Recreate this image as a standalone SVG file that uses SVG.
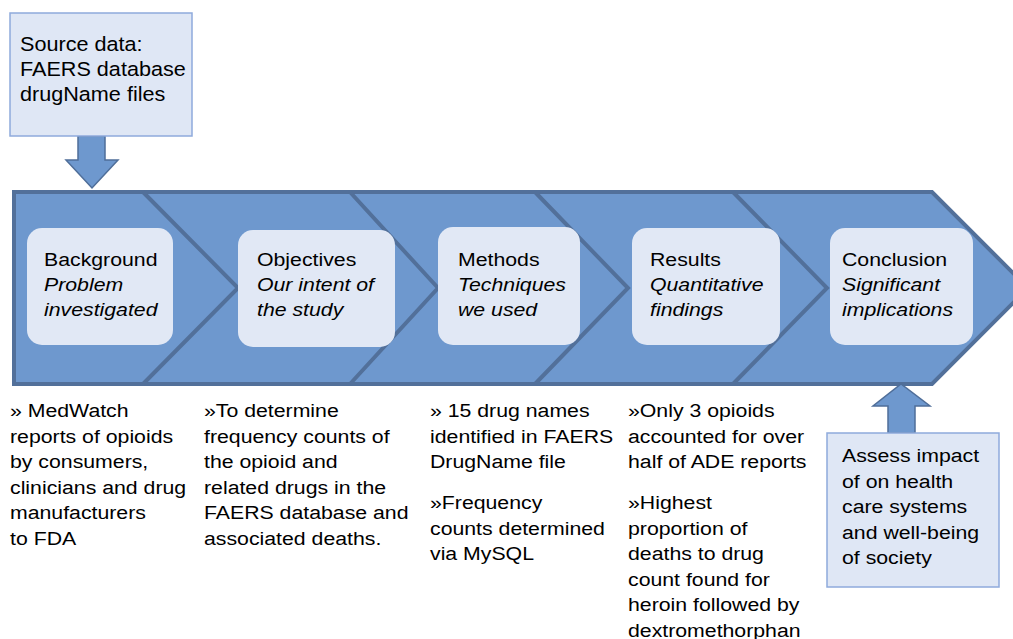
<svg xmlns="http://www.w3.org/2000/svg" width="1013" height="639" viewBox="0 0 1013 639">
<style>
text{font-family:"Liberation Sans",Arial,sans-serif;font-size:19px;fill:#000}
.it{font-style:italic}
.band{fill:#6E98CE;stroke:#52709A;stroke-width:4}
.chev{fill:none;stroke:#52709A;stroke-width:4}
.inner{fill:#E1E8F5}
.note{fill:#DFE7F5;stroke:#8FAADC;stroke-width:1.5}
.arrow{fill:#6E98CE;stroke:#4F6E99;stroke-width:1.5}
</style>
<rect width="1013" height="639" fill="#fff"/>
<g id="band">
<path class="band" d="M14,192 H932 L1028,288 L932,384 H14 Z"/>
</g>
<g id="connectors">
<polyline class="chev" points="143,192 238,288 143,384"/>
<polyline class="chev" points="350,192 438,288 350,384"/>
<polyline class="chev" points="535,192 628,288 535,384"/>
<polyline class="chev" points="733,192 827,288 733,384"/>
<path class="arrow" d="M78,136 H105 V160 H118 L92,188 L66,160 H78 Z"/>
<path class="arrow" d="M888,433 V406 H873 L901,384 L930,406 H915 V433 Z"/>
</g>
<g id="source">
<rect class="note" x="10" y="13" width="182" height="123"/>
<g transform="translate(20,0) scale(1.12,1)">
<text x="0" y="51" style="font-size:19.3px">Source data:</text>
<text x="0" y="76" style="font-size:19.3px">FAERS database</text>
<text x="0" y="101" style="font-size:19.3px">drugName files</text>
</g>
</g>
<g id="background">
<rect class="inner" x="27" y="228" width="146" height="117" rx="15"/>
<g transform="translate(44,0) scale(1.12,1)">
<text x="0" y="266">Background</text>
<text class="it" x="0" y="291">Problem</text>
<text class="it" x="0" y="316">investigated</text>
</g>
</g>
<g id="objectives">
<rect class="inner" x="238" y="230" width="157" height="117" rx="15"/>
<g transform="translate(257,0) scale(1.12,1)">
<text x="0" y="266">Objectives</text>
<text class="it" x="0" y="291">Our intent of</text>
<text class="it" x="0" y="316">the study</text>
</g>
</g>
<g id="methods">
<rect class="inner" x="438" y="227" width="142" height="118" rx="15"/>
<g transform="translate(458,0) scale(1.12,1)">
<text x="0" y="266">Methods</text>
<text class="it" x="0" y="291">Techniques</text>
<text class="it" x="0" y="316">we used</text>
</g>
</g>
<g id="results">
<rect class="inner" x="632" y="228" width="148" height="117" rx="15"/>
<g transform="translate(650,0) scale(1.12,1)">
<text x="0" y="266">Results</text>
<text class="it" x="0" y="291">Quantitative</text>
<text class="it" x="0" y="316">findings</text>
</g>
</g>
<g id="conclusion">
<rect class="inner" x="830" y="228" width="143" height="117" rx="15"/>
<g transform="translate(842,0) scale(1.12,1)">
<text x="0" y="266">Conclusion</text>
<text class="it" x="0" y="291">Significant</text>
<text class="it" x="0" y="316">implications</text>
</g>
</g>
<g id="text-background">
<g transform="translate(10,0) scale(1.12,1)">
<text x="0" y="417">» MedWatch</text>
<text x="0" y="442.6">reports of opioids</text>
<text x="0" y="468.2">by consumers,</text>
<text x="0" y="493.8">clinicians and drug</text>
<text x="0" y="519.4">manufacturers</text>
<text x="0" y="545">to FDA</text>
</g>
</g>
<g id="text-objectives">
<g transform="translate(204,0) scale(1.12,1)">
<text x="0" y="417">»To determine</text>
<text x="0" y="442.6">frequency counts of</text>
<text x="0" y="468.2">the opioid and</text>
<text x="0" y="493.8">related drugs in the</text>
<text x="0" y="519.4">FAERS database and</text>
<text x="0" y="545">associated deaths.</text>
</g>
</g>
<g id="text-methods">
<g transform="translate(430,0) scale(1.12,1)">
<text x="0" y="417">» 15 drug names</text>
<text x="0" y="442.6">identified in FAERS</text>
<text x="0" y="468.2">DrugName file</text>
<text x="0" y="509">»Frequency</text>
<text x="0" y="534.6">counts determined</text>
<text x="0" y="560.2">via MySQL</text>
</g>
</g>
<g id="text-results">
<g transform="translate(628,0) scale(1.12,1)">
<text x="0" y="417">»Only 3 opioids</text>
<text x="0" y="442.6">accounted for over</text>
<text x="0" y="468.2">half of ADE reports</text>
<text x="0" y="509">»Highest</text>
<text x="0" y="534.6">proportion of</text>
<text x="0" y="560.2">deaths to drug</text>
<text x="0" y="585.8">count found for</text>
<text x="0" y="611.4">heroin followed by</text>
<text x="0" y="637">dextromethorphan</text>
</g>
</g>
<g id="assess">
<rect class="note" x="827" y="433" width="172" height="154"/>
<g transform="translate(842,0) scale(1.12,1)">
<text x="0" y="462">Assess impact</text>
<text x="0" y="487.6">of on health</text>
<text x="0" y="513.2">care systems</text>
<text x="0" y="538.8">and well-being</text>
<text x="0" y="564.4">of society</text>
</g>
</g>
</svg>
